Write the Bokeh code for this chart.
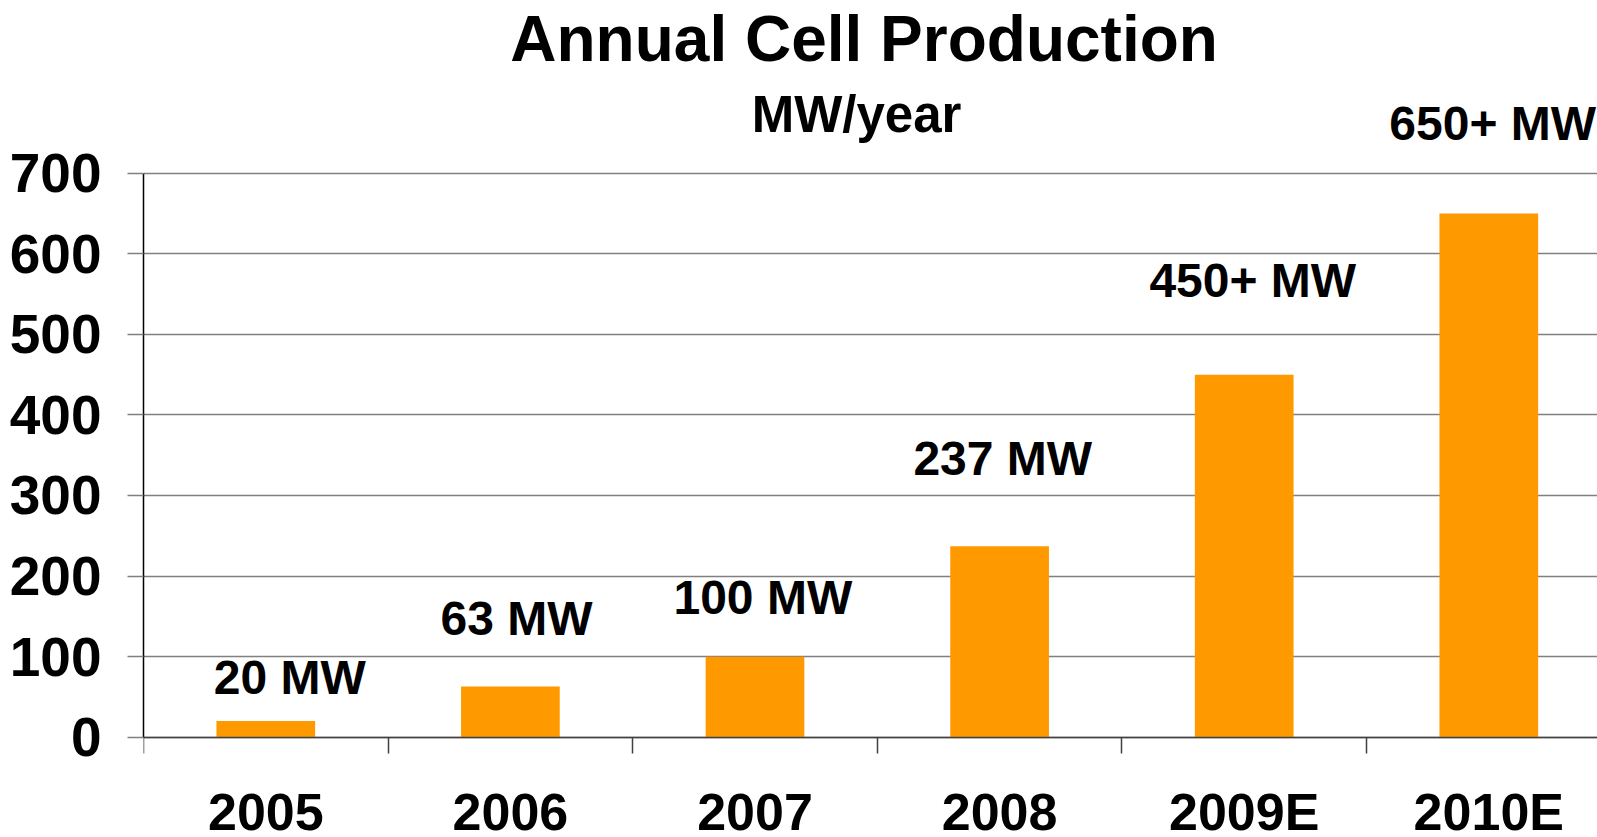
from bokeh.plotting import figure
from bokeh.models import Range1d, FixedTicker, ColumnDataSource, CustomJSTickFormatter
from bokeh.core.properties import value
from bokeh.embed import file_html
from bokeh.resources import INLINE

# ---- data ----
categories = ["2005", "2006", "2007", "2008", "2009E", "2010E"]
production_mw = [20, 63, 100, 237, 450, 650]
bar_labels = ["20 MW", "63 MW", "100 MW", "237 MW", "450+ MW", "650+ MW"]
y_ticks = [0, 100, 200, 300, 400, 500, 600, 700]
title_text = "Annual Cell Production"
subtitle_text = "MW/year"

# ---- layout (positions of the free-floating texts, in data units) ----
label_y = [53, 126, 153, 325, 546, 741]
label_dx = [0.098, 0.025, 0.032, 0.013, 0.035, 0.016]
cat_label_y = -116
title_xy = (2.946, 838.6)
subtitle_xy = (2.915, 750.5)

W, H = 1597, 837
LEFT = 143
ZERO_PX = 736.7          # pixel row of y = 0 from the top
PX_PER_CAT = 244.6
PX_PER_UNIT = 0.8057
x_end = (W - LEFT) / PX_PER_CAT
y_end = ZERO_PX / PX_PER_UNIT
y_start = -(H - ZERO_PX) / PX_PER_UNIT

FONT = value("Liberation Sans")
ORANGE = "#FF9900"
BASE_SHIFT = 0.35  # em, baseline correction for svg text

centers = [i + 0.5 for i in range(len(categories))]

p = figure(width=W, height=H, x_range=Range1d(0, x_end), y_range=Range1d(y_start, y_end),
           output_backend="svg", toolbar_location=None,
           min_border_left=LEFT, min_border_right=0, min_border_top=0,
           min_border_bottom=0, outline_line_color=None,
           background_fill_color="white", border_fill_color="white")

# bars
src = ColumnDataSource(dict(x=centers, top=production_mw))
p.vbar(x="x", top="top", width=0.4035, source=src, fill_color=ORANGE, line_color=None)


def add_text(xs, ys, texts, size):
    p.text(x=xs, y=ys, text=texts, text_font=FONT, text_font_style="bold",
           text_font_size=f"{size}px", text_align="center", text_baseline="alphabetic",
           text_color="black", y_offset=-BASE_SHIFT * size)


# value labels
add_text([c + d for c, d in zip(centers, label_dx)], label_y, bar_labels, 48)
# category labels
add_text(centers, [cat_label_y] * len(categories), categories, 52)
# titles
add_text([title_xy[0]], [title_xy[1]], [title_text], 64)
add_text([subtitle_xy[0]], [subtitle_xy[1]], [subtitle_text], 51)

# y axis
p.yaxis.ticker = FixedTicker(ticks=y_ticks)
p.yaxis.bounds = (0, 700)
p.yaxis.minor_tick_line_color = None
p.yaxis.major_tick_out = 16
p.yaxis.major_tick_in = 0
p.yaxis.major_tick_line_color = "#808080"
p.yaxis.major_tick_line_width = 1.5
p.yaxis.axis_line_color = "black"
p.yaxis.axis_line_width = 1.5
p.yaxis.major_label_text_font = "Liberation Sans"
p.yaxis.major_label_text_font_style = "bold"
p.yaxis.major_label_text_font_size = "55px"
p.yaxis.major_label_text_color = "black"
p.yaxis.major_label_standoff = 26

# x axis drawn at y = 0, ticks at category boundaries
p.xaxis.fixed_location = 0
p.xaxis.ticker = FixedTicker(ticks=list(range(len(categories) + 1)))
p.xaxis.formatter = CustomJSTickFormatter(code="return ''")
p.xaxis.major_label_text_font_size = "1px"
p.xaxis.minor_tick_line_color = None
p.xaxis.major_tick_out = 16
p.xaxis.major_tick_in = 0
p.xaxis.major_tick_line_color = "#404040"
p.xaxis.major_tick_line_width = 1.5
p.xaxis.axis_line_color = "#404040"
p.xaxis.axis_line_width = 1.5
p.xaxis.major_label_standoff = 0

p.xgrid.visible = False
p.ygrid.ticker = FixedTicker(ticks=y_ticks)
p.ygrid.grid_line_color = "#808080"
p.ygrid.grid_line_width = 1.5

open("out.html", "w").write(file_html(p, INLINE))
